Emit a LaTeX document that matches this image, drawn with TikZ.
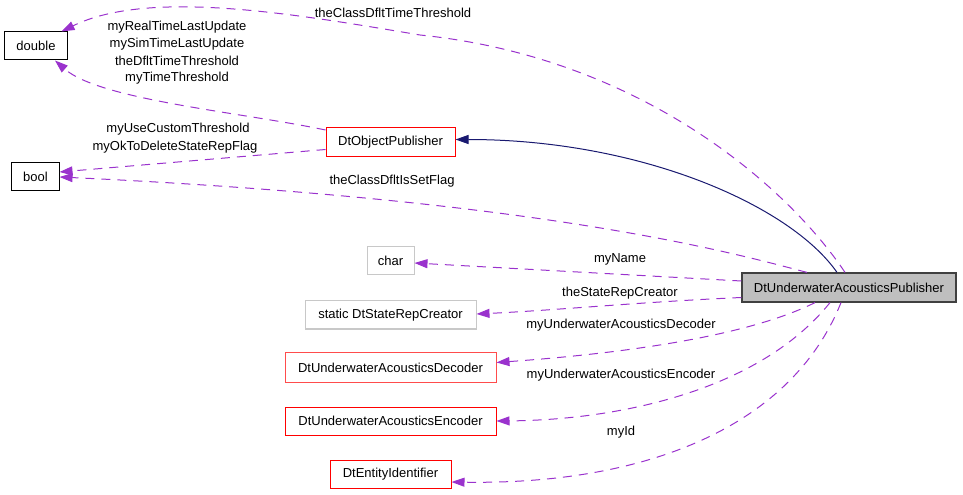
\documentclass[tikz,border=0pt]{standalone}
\usepackage{fontspec}
\setmainfont{Liberation Sans}
\usetikzlibrary{arrows.meta}
\definecolor{dep}{HTML}{9A32CD}
\definecolor{inh}{HTML}{191970}
\definecolor{gbox}{HTML}{BFBFBF}
\definecolor{lbox}{HTML}{C8C8C8}
\tikzset{
  every node/.style={font=\fontsize{13bp}{15bp}\selectfont, inner sep=0pt},
  cls/.style={draw=black, line width=1bp, minimum height=28bp},
  redcls/.style={draw=red, line width=1bp, minimum height=28bp},
  graycls/.style={draw=lbox, line width=1bp, minimum height=28bp},
  maincls/.style={draw=black!75, fill=gbox, line width=1.2bp, minimum height=29bp},
  depedge/.style={draw=dep, line width=1bp, dash pattern=on 9bp off 7bp, -{Triangle[length=13bp,width=9bp,fill=dep]}},
  inhedge/.style={draw=inh, line width=1bp, -{Triangle[length=13bp,width=9bp,fill=inh]}},
  lbl/.style={font=\fontsize{13bp}{15bp}\selectfont, inner sep=0pt}
}
\begin{document}
\begin{tikzpicture}[x=1bp,y=-1bp]
\useasboundingbox (0,0) rectangle (963,495);
% nodes
\node[cls, minimum width=62bp] (dbl) at (36,46) {double};
\node[cls, minimum width=47bp] (bool) at (35.5,177) {bool};
\node[redcls, minimum width=129bp, minimum height=29bp] (objpub) at (390.5,142.5) {DtObjectPublisher};
\node[graycls, minimum width=47bp] (char) at (390.5,261) {char};
\node[graycls, minimum width=171bp] (src) at (390.5,315) {static DtStateRepCreator};
\node[redcls, draw=red!70, minimum width=211bp, minimum height=29bp] (dec) at (390.5,367.5) {DtUnderwaterAcousticsDecoder};
\node[redcls, minimum width=211bp] (enc) at (390.5,421) {DtUnderwaterAcousticsEncoder};
\node[redcls, minimum width=121bp] (eid) at (390.5,474) {DtEntityIdentifier};
\node[maincls, minimum width=214bp] (pub) at (849,287.5) {DtUnderwaterAcousticsPublisher};
% edges
\draw[inhedge] ([xshift=-12bp]pub.north) .. controls (790,205) and (640,139.5) .. ([yshift=3bp]objpub.east);
\draw[depedge] ([xshift=-4bp]pub.north) .. controls (790,190) and (645,58) .. (420,35) .. controls (300,15) and (150,-12) .. ([xshift=-6bp]dbl.north east);
\draw[depedge] ([yshift=12.5bp]objpub.west) .. controls (240,112) and (100,100) .. ([xshift=19bp]dbl.south);
\draw[depedge] ([yshift=-7bp]objpub.west) -- ([yshift=5bp]bool.east);
\draw[depedge] ([xshift=-42bp]pub.north) .. controls (740,255) and (550,200) .. (bool.east);
\draw[depedge] ([yshift=6.5bp]pub.west) -- ([yshift=-2bp]char.east);
\draw[depedge] ([yshift=-10bp]pub.west) .. controls (640,302) and (560,310) .. ([yshift=1bp]src.east);
\draw[depedge] ([xshift=-34bp]pub.south) .. controls (740,340) and (600,355) .. ([yshift=5bp]dec.east);
\draw[depedge] ([xshift=-19bp]pub.south) .. controls (760,390) and (620,420) .. (enc.east);
\draw[depedge] ([xshift=-8bp]pub.south) .. controls (790,430) and (640,485) .. ([yshift=-8bp]eid.east);
% labels
\node[lbl] (l1) at (393,13) {theClassDfltTimeThreshold};
\node[lbl] (l2) at (177,27) {myRealTimeLastUpdate};
\node[lbl] (l3) at (177,44) {mySimTimeLastUpdate};
\node[lbl] (l4) at (177,61) {theDfltTimeThreshold};
\node[lbl] (l5) at (177,78) {myTimeThreshold};
\node[lbl] (l6) at (178,129) {myUseCustomThreshold};
\node[lbl] (l7) at (175,147) {myOkToDeleteStateRepFlag};
\node[lbl] (l8) at (392,181) {theClassDfltIsSetFlag};
\node[lbl] (l9) at (620,259) {myName};
\node[lbl] (l10) at (620,293) {theStateRepCreator};
\node[lbl] (l11) at (621,325) {myUnderwaterAcousticsDecoder};
\node[lbl] (l12) at (621,375) {myUnderwaterAcousticsEncoder};
\node[lbl] (l13) at (621,432) {myId};
\end{tikzpicture}
\end{document}
